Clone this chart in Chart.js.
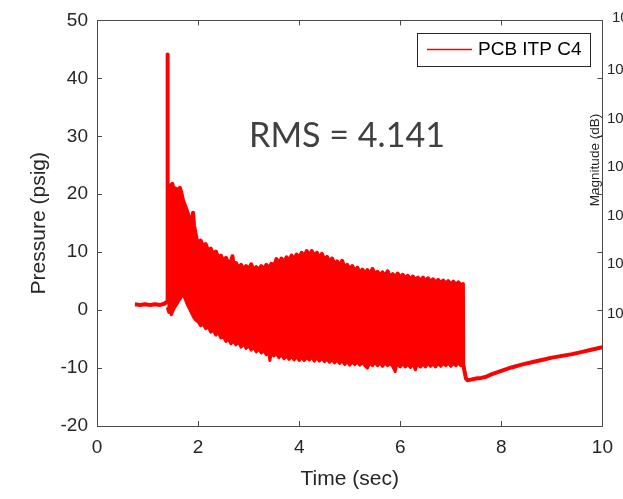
<!DOCTYPE html>
<html>
<head>
<meta charset="utf-8">
<script src="https://cdn.jsdelivr.net/npm/chart.js@4/dist/chart.umd.min.js"></script>
<style>
  html, body { margin: 0; padding: 0; background: #ffffff; }
  #wrap { width: 623px; height: 499px; position: relative; }
</style>
</head>
<body>
<div id="wrap"><canvas id="c" width="623" height="499"></canvas></div>
<script>
// ---- Data ----
const seriesName = 'PCB ITP C4';
const rmsText = 'RMS = 4.141';

// Pre-onset baseline
const preTime     = [0.75, 0.85, 0.95, 1.05, 1.15, 1.25, 1.33, 1.38, 1.39];
const prePressure = [1.0, 0.9, 1.0, 0.9, 1.0, 0.9, 1.1, 1.4, 1.5];

// Spike and first burst (upper edge)
const burstTime     = [1.395, 1.40, 1.44, 1.46, 1.49, 1.52, 1.55, 1.58, 1.61, 1.64,
                       1.67, 1.70, 1.73, 1.76, 1.80, 1.84, 1.88, 1.90, 1.92, 1.95, 1.98];
const burstPressure = [44.1, 17.4, 17.8, 21.5, 21.8, 20.6, 21.0, 20.4, 20.9, 21.1,
                       20.2, 19.0, 18.3, 17.6, 16.6, 15.6, 14.9, 16.8, 14.6, 13.2, 11.8];

// Upper edge of the oscillation band
const bandUpperTime = [
  2.00, 2.05, 2.10, 2.15, 2.20, 2.25, 2.30, 2.35, 2.40, 2.45,
  2.50, 2.55, 2.60, 2.65, 2.68, 2.70, 2.75, 2.80, 2.85, 2.90,
  2.95, 3.00, 3.05, 3.10, 3.15, 3.20, 3.25, 3.30, 3.35, 3.40,
  3.45, 3.50, 3.55, 3.60, 3.65, 3.70, 3.75, 3.80, 3.85, 3.90,
  3.95, 4.00, 4.05, 4.10, 4.15, 4.20, 4.25, 4.30, 4.35, 4.40,
  4.45, 4.50, 4.55, 4.60, 4.65, 4.70, 4.75, 4.80, 4.85, 4.90,
  4.95, 5.00, 5.05, 5.10, 5.15, 5.20, 5.25, 5.30, 5.35, 5.40,
  5.45, 5.50, 5.55, 5.60, 5.65, 5.70, 5.75, 5.80, 5.85, 5.90,
  5.95, 6.00, 6.05, 6.10, 6.15, 6.20, 6.25, 6.30, 6.35, 6.40,
  6.45, 6.50, 6.55, 6.60, 6.65, 6.70, 6.75, 6.80, 6.85, 6.90,
  6.95, 7.00, 7.05, 7.10, 7.15, 7.20, 7.24];
const bandUpperPressure = [
  11.6, 12.0, 10.9, 11.4, 10.2, 10.6, 9.6, 10.1, 9.0, 9.4,
  8.4, 9.0, 8.1, 8.4, 9.3, 7.9, 8.1, 7.2, 7.8, 7.0,
  7.6, 7.0, 7.9, 6.9, 7.4, 6.9, 7.6, 7.0, 7.8, 7.1,
  8.0, 7.4, 8.8, 7.8, 8.9, 8.2, 9.1, 8.4, 9.4, 8.6,
  9.6, 8.9, 9.9, 9.2, 10.2, 9.3, 10.2, 9.2, 9.9, 8.9,
  9.7, 8.6, 9.2, 8.2, 8.9, 7.9, 8.4, 7.5, 8.5, 7.2,
  7.8, 7.0, 7.6, 6.6, 7.3, 6.4, 7.0, 6.2, 6.9, 6.0,
  7.1, 6.1, 6.6, 5.9, 6.5, 5.8, 6.7, 5.7, 6.2, 5.6,
  6.3, 5.5, 6.1, 5.4, 5.9, 5.2, 5.8, 5.1, 5.6, 5.0,
  5.6, 4.9, 5.5, 4.8, 5.3, 4.7, 5.2, 4.6, 5.1, 4.5,
  5.0, 4.4, 4.9, 4.3, 4.8, 4.2, 4.5];

// Drop and recovery after the oscillation stops
const postTime     = [7.245, 7.27, 7.30, 7.33, 7.40, 7.50, 7.60, 7.70, 7.80, 7.90,
                      8.00, 8.20, 8.40, 8.60, 8.80, 9.00, 9.20, 9.40, 9.60, 9.80, 10.0];
const postPressure = [-9.3, -10.5, -11.8, -12.1, -12.0, -11.8, -11.7, -11.5, -11.1, -10.8,
                      -10.5, -9.9, -9.4, -9.0, -8.6, -8.2, -7.9, -7.6, -7.2, -6.8, -6.4];

// Lower edge of the oscillation band
const lowerTime = [
  1.39, 1.42, 1.44, 1.47, 1.50, 1.53, 1.57, 1.61, 1.65, 1.69,
  1.72, 1.75, 1.79, 1.83, 1.87, 1.91, 1.95,
  2.00, 2.05, 2.10, 2.15, 2.20, 2.25, 2.30, 2.35, 2.40, 2.45,
  2.50, 2.55, 2.60, 2.65, 2.70, 2.75, 2.80, 2.85, 2.90, 2.95,
  3.00, 3.05, 3.10, 3.15, 3.20, 3.25, 3.30, 3.35, 3.40, 3.42,
  3.45, 3.50, 3.55, 3.60, 3.65, 3.70, 3.75, 3.80, 3.85, 3.90,
  3.95, 4.00, 4.05, 4.10, 4.15, 4.20, 4.25, 4.30, 4.35, 4.40,
  4.45, 4.50, 4.55, 4.60, 4.65, 4.70, 4.75, 4.80, 4.85, 4.90,
  4.95, 5.00, 5.05, 5.10, 5.15, 5.20, 5.25, 5.30, 5.35, 5.40,
  5.45, 5.50, 5.55, 5.60, 5.65, 5.70, 5.75, 5.80, 5.85, 5.90,
  5.93, 6.00, 6.05, 6.10, 6.15, 6.20, 6.25, 6.30, 6.33, 6.40,
  6.45, 6.50, 6.55, 6.60, 6.65, 6.70, 6.75, 6.80, 6.85, 6.90,
  6.95, 7.00, 7.05, 7.10, 7.15, 7.20, 7.245];
const lowerPressure = [
  0.5, -0.4, 0.2, -0.8, -0.2, 0.4, 0.9, 1.5, 2.0, 2.6,
  2.4, 1.8, 0.9, 0.2, -0.5, -1.2, -1.7,
  -2.0, -2.7, -2.4, -3.2, -2.9, -3.8, -3.4, -4.3, -3.9, -4.8,
  -4.6, -5.4, -5.0, -5.8, -5.3, -6.0, -5.5, -6.4, -5.8, -6.6,
  -6.1, -6.9, -6.4, -7.2, -6.7, -7.4, -7.0, -7.7, -7.2, -8.7,
  -7.4, -7.9, -7.5, -8.2, -7.7, -8.4, -7.9, -8.5, -8.0, -8.6,
  -8.0, -8.7, -8.1, -8.7, -8.2, -8.6, -8.1, -8.8, -8.2, -8.8,
  -8.3, -8.9, -8.4, -9.0, -8.5, -9.1, -8.6, -9.2, -8.7, -9.4,
  -8.8, -9.5, -8.9, -9.4, -8.9, -9.5, -9.0, -9.6, -10.0, -9.1,
  -9.6, -9.0, -9.6, -9.1, -9.7, -9.1, -9.6, -9.2, -9.7, -10.6,
  -9.3, -9.8, -9.2, -9.8, -9.3, -9.9, -9.3, -10.3, -9.4, -9.8,
  -9.3, -9.8, -9.2, -9.7, -9.3, -9.8, -9.2, -9.7, -9.2, -9.6,
  -9.1, -9.7, -9.2, -9.6, -9.1, -9.6, -9.3];

// Axis ticks and titles
const xTicks = [0, 2, 4, 6, 8, 10];
const yTicks = [-20, -10, 0, 10, 20, 30, 40, 50];
const xTitle = 'Time (sec)';
const yTitle = 'Pressure (psig)';

// Partially visible overlapping axes at the right edge
const rightAxisTitle = 'Magnitude (dB)';
const rightTickLabels = ['10', '10', '10', '10', '10', '10\u2077', '10\u2077'];

// ---- Chart ----
const RED = '#ff0000';
const AX = '#262626';
const FONT = '"Liberation Sans", Arial, Helvetica, sans-serif';

const toXY = (ts, ps) => ts.map((t, i) => ({ x: t, y: ps[i] }));
const upperData = [].concat(
  toXY(preTime, prePressure),
  toXY(burstTime, burstPressure),
  toXY(bandUpperTime, bandUpperPressure),
  toXY(postTime, postPressure)
);
const lowerData = toXY(lowerTime, lowerPressure);

const boxPlugin = {
  id: 'matlabBox',
  afterDatasetsDraw(chart) {
    const { ctx, chartArea: a, scales } = chart;
    const xs = scales.x, ys = scales.y;
    ctx.save();
    ctx.strokeStyle = '#4a4a4a';
    ctx.lineWidth = 1;
    ctx.beginPath();
    ctx.rect(Math.round(a.left) + 0.5, Math.round(a.top) + 0.5, Math.round(a.right - a.left), Math.round(a.bottom - a.top));
    ctx.stroke();
    const tl = 5;
    ctx.beginPath();
    xTicks.forEach(v => {
      const px = Math.round(xs.getPixelForValue(v)) + 0.5;
      ctx.moveTo(px, a.bottom); ctx.lineTo(px, a.bottom - tl);
      ctx.moveTo(px, a.top); ctx.lineTo(px, a.top + tl);
    });
    yTicks.forEach(v => {
      const py = Math.round(ys.getPixelForValue(v)) + 0.5;
      ctx.moveTo(a.left, py); ctx.lineTo(a.left + tl, py);
      ctx.moveTo(a.right, py); ctx.lineTo(a.right - tl, py);
    });
    ctx.stroke();
    ctx.restore();
  },
  afterDraw(chart) {
    const { ctx } = chart;
    ctx.save();
    // Legend box (MATLAB style, inside the axes at top right)
    const lx = 417, ly = 33, lw = 173, lh = 33;
    ctx.fillStyle = '#ffffff';
    ctx.fillRect(lx, ly, lw, lh);
    ctx.lineWidth = 1;
    ctx.strokeStyle = AX;
    ctx.strokeRect(lx + 0.5, ly + 0.5, lw, lh);
    ctx.beginPath();
    ctx.strokeStyle = RED;
    ctx.lineWidth = 1.5;
    ctx.moveTo(lx + 10, ly + 16.5);
    ctx.lineTo(lx + 55, ly + 16.5);
    ctx.stroke();
    ctx.fillStyle = '#000000';
    ctx.font = '19px ' + FONT;
    ctx.textBaseline = 'middle';
    ctx.textAlign = 'left';
    ctx.fillText(chart.data.datasets[0].label, lx + 61, ly + 17);

    // RMS annotation
    let fs = 35;
    ctx.font = fs + 'px Lato, "Open Sans", sans-serif';
    const w = ctx.measureText(rmsText).width;
    fs = fs * 196 / w;
    ctx.font = fs + 'px Lato, "Open Sans", sans-serif';
    ctx.fillStyle = '#404040';
    ctx.textAlign = 'center';
    ctx.textBaseline = 'alphabetic';
    ctx.fillText(rmsText, 347, 147);

    // Right edge: clipped labels of an overlapping axes
    ctx.fillStyle = AX;
    ctx.font = '15px ' + FONT;
    ctx.textAlign = 'left';
    ctx.textBaseline = 'middle';
    const ry = [18, 70, 119, 167, 216, 264, 314];
    rightTickLabels.forEach((t, i) => {
      ctx.fillText(t, i === 0 ? 612 : 607, ry[i]);
    });
    ctx.save();
    ctx.translate(595, 160);
    ctx.rotate(-Math.PI / 2);
    ctx.font = '13.5px ' + FONT;
    ctx.textAlign = 'center';
    ctx.fillText(rightAxisTitle, 0, 0);
    ctx.restore();
    ctx.restore();
  }
};

new Chart(document.getElementById('c'), {
  type: 'line',
  data: {
    datasets: [
      {
        label: seriesName,
        data: upperData,
        borderColor: RED,
        backgroundColor: RED,
        borderWidth: 4,
        pointRadius: 0,
        tension: 0,
        fill: false,
        borderJoinStyle: 'round'
      },
      {
        label: seriesName + ' (lower)',
        data: lowerData,
        borderColor: RED,
        backgroundColor: RED,
        borderWidth: 3,
        pointRadius: 0,
        tension: 0,
        fill: { target: 0 },
        borderJoinStyle: 'round'
      }
    ]
  },
  options: {
    responsive: false,
    devicePixelRatio: 1,
    animation: false,
    layout: { padding: { top: 18, right: 18, left: 0, bottom: 0 } },
    plugins: {
      legend: { display: false },
      tooltip: { enabled: false }
    },
    scales: {
      x: {
        type: 'linear',
        min: 0, max: 10,
        afterFit(s) { s.height = 73; },
        afterBuildTicks(s) { s.ticks = xTicks.map(v => ({ value: v })); },
        grid: { display: false, drawTicks: false },
        border: { display: false },
        ticks: { padding: 10, color: AX, font: { family: FONT, size: 19 }, maxRotation: 0 },
        title: { display: true, text: xTitle, color: AX, font: { family: FONT, size: 21 }, padding: { top: 0, bottom: 7 } }
      },
      y: {
        type: 'linear',
        min: -20, max: 50,
        afterFit(s) { s.width = 97; },
        afterBuildTicks(s) { s.ticks = yTicks.map(v => ({ value: v })); },
        grid: { display: false, drawTicks: false },
        border: { display: false },
        ticks: { padding: 9, color: AX, font: { family: FONT, size: 19 } },
        title: { display: true, text: yTitle, color: AX, font: { family: FONT, size: 21 }, padding: { top: 27, bottom: 0 } }
      }
    }
  },
  plugins: [boxPlugin]
});
</script>
</body>
</html>
